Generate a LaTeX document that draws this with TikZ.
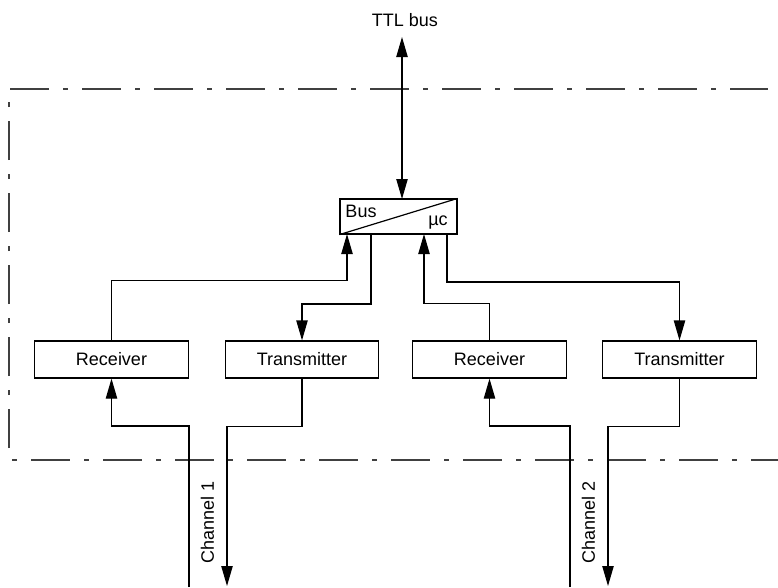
\documentclass[tikz,border=0pt]{standalone}
\usepackage{fontspec}
\setmainfont{Liberation Sans}
\usetikzlibrary{arrows.meta}
\begin{document}
\begin{tikzpicture}[x=0.75pt,y=-0.75pt,
  line width=0.9pt,
  every node/.style={font=\fontsize{13.5}{15}\selectfont},
  blk/.style={draw,rectangle,minimum width=115pt,minimum height=27.75pt,inner sep=0pt},
  arr/.style={-{Triangle[length=15pt,width=8.5pt]}},
  darr/.style={{Triangle[length=15pt,width=8.5pt]}-{Triangle[length=15pt,width=8.5pt]}},
  dashdot/.style={line width=1pt,black!75,dash pattern=on 29.25pt off 10.5pt on 3.75pt off 10.5pt}]
\useasboundingbox (0,0) rectangle (778,587);
% enclosure
\draw[dashdot] (10,89) -- (768,89);
\draw[dashdot] (9,448) -- (9,89);
\draw[dashdot,dash phase=39.75pt] (12,460) -- (778,460);
% nodes
\node (ttl) at (405,20) {TTL bus};
\node[draw,rectangle,minimum width=87.75pt,minimum height=26.25pt,inner sep=0pt] (bus) at (398.5,216.5) {};
\draw (bus.south west) -- (bus.north east);
\node (buslbl) at (361,211) {Bus};
\node (uclbl) at (438,223) {µc};
\node[blk] (r1) at (111.5,359.5) {Receiver};
\node[blk] (t1) at (302,359.5) {Transmitter};
\node[blk] (r2) at (489.5,359.5) {Receiver};
\node[blk] (t2) at (679.5,359.5) {Transmitter};
\node[rotate=90] (ch1) at (207.5,522) {Channel 1};
\node[rotate=90] (ch2) at (588.5,522) {Channel 2};
% bus bottom ports
\coordinate (b1) at (347,234);
\coordinate (b2) at (371,234);
\coordinate (b3) at (424,234);
\coordinate (b4) at (447,234);
\coordinate (ttlend) at (402,37);
\coordinate (bustop) at (402,199);
% channel ends
\coordinate (c1in) at (189,587);
\coordinate (c1out) at (227,586);
\coordinate (c2in) at (570,587);
\coordinate (c2out) at (608,586);
% connectors
\draw[darr] (ttlend) -- (bustop);
\draw[arr] (r1.north) -- ++(0,-60) -| (b1);
\draw[arr] (b2) -- ++(0,70) -| (t1.north);
\draw[arr] (r2.north) -- ++(0,-37) -| (b3);
\draw[arr] (b4) -- ++(0,48) -| (t2.north);
\draw[arr] (c1in) -- ++(0,-161) -| (r1.south);
\draw[arr] (t1.south) -- ++(0,48) -| (c1out);
\draw[arr] (c2in) -- ++(0,-161) -| (r2.south);
\draw[arr] (t2.south) -- ++(0,48) -| (c2out);
\end{tikzpicture}
\end{document}
